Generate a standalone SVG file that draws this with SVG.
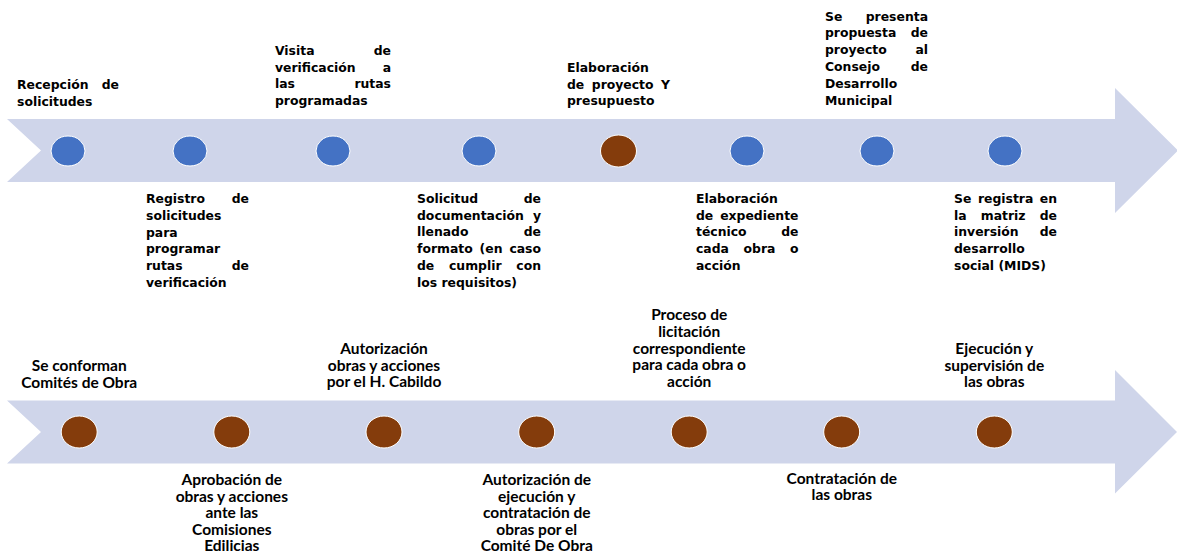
<svg xmlns="http://www.w3.org/2000/svg" width="1177" height="554" viewBox="0 0 1177 554">
<style>
.band{fill:#CFD5EA}
.blue{fill:#4472C4;stroke:#ffffff;stroke-width:1}
.brown{fill:#843C0C;stroke:#ffffff;stroke-width:1}
.t{font-family:"DejaVu Sans",Verdana,sans-serif;font-weight:bold;font-size:12.4px;fill:#000}
.e{text-anchor:end}
.b{font-family:Lato,"Liberation Sans",sans-serif;font-weight:bold;font-size:15.5px;fill:#000;text-anchor:middle}
</style>
<rect width="1177" height="554" fill="#ffffff"/>
<g id="connectors">
<polygon id="arrow-top" class="band" points="7,119 1115,119 1115,88 1178,150.5 1115,213 1115,182 7,182 41,150.5"/>
<polygon id="arrow-bottom" class="band" points="7,400.5 1115,400.5 1115,370 1177,432 1115,493.5 1115,463.5 7,463.5 41,432"/>
</g>
<g id="n1"><ellipse class="blue" cx="68" cy="151" rx="17" ry="15"/>
<text class="t"><tspan x="17" y="89">Recepción</tspan><tspan class="e" x="119" y="89">de</tspan><tspan x="17" y="106">solicitudes</tspan></text></g>
<g id="n2"><ellipse class="blue" cx="190" cy="151" rx="17" ry="15"/>
<text class="t"><tspan x="146" y="203">Registro</tspan><tspan class="e" x="249" y="203">de</tspan><tspan x="146" y="219.8">solicitudes</tspan><tspan x="146" y="236.6">para</tspan><tspan x="146" y="253.4">programar</tspan><tspan x="146" y="270.2">rutas</tspan><tspan class="e" x="249" y="270.2">de</tspan><tspan x="146" y="287">verificación</tspan></text></g>
<g id="n3"><ellipse class="blue" cx="333" cy="151" rx="17" ry="15"/>
<text class="t"><tspan x="275" y="55">Visita</tspan><tspan class="e" x="391" y="55">de</tspan><tspan x="275" y="71.7">verificación</tspan><tspan class="e" x="391" y="71.7">a</tspan><tspan x="275" y="88.4">las</tspan><tspan class="e" x="391" y="88.4">rutas</tspan><tspan x="275" y="105">programadas</tspan></text></g>
<g id="n4"><ellipse class="blue" cx="479" cy="151" rx="17" ry="15"/>
<text class="t"><tspan x="417" y="203">Solicitud</tspan><tspan class="e" x="541" y="203">de</tspan><tspan x="417" y="219.7">documentación</tspan><tspan class="e" x="541" y="219.7">y</tspan><tspan x="417" y="236.4">llenado</tspan><tspan class="e" x="541" y="236.4">de</tspan><tspan x="417" y="253.1">formato</tspan><tspan x="479.6" y="253.1">(en</tspan><tspan class="e" x="541" y="253.1">caso</tspan><tspan x="417" y="269.8">de</tspan><tspan x="449" y="269.8">cumplir</tspan><tspan class="e" x="541" y="269.8">con</tspan><tspan x="417" y="286.5">los requisitos)</tspan></text></g>
<g id="n5"><ellipse class="brown" cx="618.5" cy="151" rx="18" ry="16"/>
<text class="t"><tspan x="567" y="72">Elaboración</tspan><tspan x="567" y="88.6">de</tspan><tspan x="591.8" y="88.6">proyecto</tspan><tspan class="e" x="670" y="88.6">Y</tspan><tspan x="567" y="105.2">presupuesto</tspan></text></g>
<g id="n6"><ellipse class="blue" cx="747" cy="151" rx="17" ry="15"/>
<text class="t"><tspan x="696" y="203">Elaboración</tspan><tspan x="696" y="219.7">de</tspan><tspan class="e" x="798.5" y="219.7">expediente</tspan><tspan x="696" y="236.4">técnico</tspan><tspan class="e" x="798.5" y="236.4">de</tspan><tspan x="696" y="253.1">cada</tspan><tspan x="743.5" y="253.1">obra</tspan><tspan class="e" x="798.5" y="253.1">o</tspan><tspan x="696" y="269.8">acción</tspan></text></g>
<g id="n7"><ellipse class="blue" cx="877" cy="151" rx="17" ry="15"/>
<text class="t"><tspan x="825" y="20.5">Se</tspan><tspan class="e" x="928" y="20.5">presenta</tspan><tspan x="825" y="37.3">propuesta</tspan><tspan class="e" x="928" y="37.3">de</tspan><tspan x="825" y="54.1">proyecto</tspan><tspan class="e" x="928" y="54.1">al</tspan><tspan x="825" y="70.9">Consejo</tspan><tspan class="e" x="928" y="70.9">de</tspan><tspan x="825" y="87.7">Desarrollo</tspan><tspan x="825" y="104.5">Municipal</tspan></text></g>
<g id="n8"><ellipse class="blue" cx="1005" cy="151" rx="17" ry="15"/>
<text class="t"><tspan x="954" y="203">Se</tspan><tspan x="977.9" y="203">registra</tspan><tspan class="e" x="1057" y="203">en</tspan><tspan x="954" y="219.7">la</tspan><tspan x="980.8" y="219.7">matriz</tspan><tspan class="e" x="1057" y="219.7">de</tspan><tspan x="954" y="236.4">inversión</tspan><tspan class="e" x="1057" y="236.4">de</tspan><tspan x="954" y="253.1">desarrollo</tspan><tspan x="954" y="269.8">social (MIDS)</tspan></text></g>
<g id="n9"><ellipse class="brown" cx="79.2" cy="432" rx="18" ry="16"/>
<text class="b"><tspan x="79.2" y="371">Se conforman</tspan><tspan x="79.2" y="387.5">Comités de Obra</tspan></text></g>
<g id="n10"><ellipse class="brown" cx="231.8" cy="432" rx="18" ry="16"/>
<text class="b"><tspan x="231.8" y="485">Aprobación de</tspan><tspan x="231.8" y="501.5">obras y acciones</tspan><tspan x="231.8" y="518">ante las</tspan><tspan x="231.8" y="534.5">Comisiones</tspan><tspan x="231.8" y="551">Edilicias</tspan></text></g>
<g id="n11"><ellipse class="brown" cx="384" cy="432" rx="18" ry="16"/>
<text class="b"><tspan x="384" y="354">Autorización</tspan><tspan x="384" y="370.7">obras y acciones</tspan><tspan x="384" y="387.4">por el H. Cabildo</tspan></text></g>
<g id="n12"><ellipse class="brown" cx="536.7" cy="432" rx="18" ry="16"/>
<text class="b"><tspan x="536.7" y="485">Autorización de</tspan><tspan x="536.7" y="501.5">ejecución y</tspan><tspan x="536.7" y="518">contratación de</tspan><tspan x="536.7" y="534.5">obras por el</tspan><tspan x="536.7" y="551">Comité De Obra</tspan></text></g>
<g id="n13"><ellipse class="brown" cx="689.2" cy="432" rx="18" ry="16"/>
<text class="b"><tspan x="689.2" y="320.3">Proceso de</tspan><tspan x="689.2" y="337">licitación</tspan><tspan x="689.2" y="353.7">correspondiente</tspan><tspan x="689.2" y="370.4">para cada obra o</tspan><tspan x="689.2" y="387.1">acción</tspan></text></g>
<g id="n14"><ellipse class="brown" cx="841.7" cy="432" rx="18" ry="16"/>
<text class="b"><tspan x="841.8" y="483.5">Contratación de</tspan><tspan x="841.8" y="500">las obras</tspan></text></g>
<g id="n15"><ellipse class="brown" cx="994.3" cy="432" rx="18" ry="16"/>
<text class="b"><tspan x="994.3" y="354">Ejecución y</tspan><tspan x="994.3" y="370.7">supervisión de</tspan><tspan x="994.3" y="387.4">las obras</tspan></text></g>
</svg>
